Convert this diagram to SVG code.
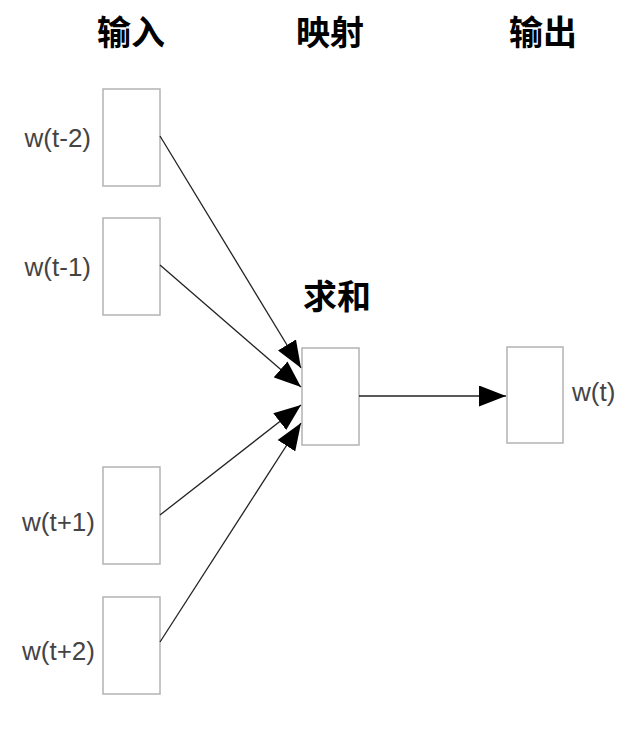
<svg xmlns="http://www.w3.org/2000/svg" width="624" height="750" viewBox="0 0 624 750">
<style>
.box{fill:#fff;stroke:#b3b3b3;stroke-width:1.5}
.lbl{font-family:"Liberation Sans",Arial,sans-serif;font-size:26px;fill:#444}
.title{font-family:"Noto Sans CJK SC",sans-serif;font-size:34px;font-weight:bold;fill:#000;text-anchor:middle}
.edge{stroke:#222;stroke-width:1.3;fill:none;marker-end:url(#arr)}
</style>
<defs>
<marker id="arr" markerUnits="userSpaceOnUse" markerWidth="27" markerHeight="21" refX="27" refY="10.5" orient="auto">
<path d="M0,0 L27,10.5 L0,21 Z" fill="#000"/>
</marker>
</defs>
<rect width="624" height="750" fill="#fff"/>
<text class="title" x="131" y="45">输入</text>
<text class="title" x="330" y="45">映射</text>
<text class="title" x="543" y="45">输出</text>
<g id="in1"><rect class="box" x="103" y="89" width="57" height="97"/><text class="lbl" x="91" y="147" text-anchor="end">w(t-2)</text></g>
<g id="in2"><rect class="box" x="103" y="218" width="57" height="97"/><text class="lbl" x="91" y="276" text-anchor="end">w(t-1)</text></g>
<g id="in3"><rect class="box" x="103" y="467" width="57" height="97"/><text class="lbl" x="95" y="531" text-anchor="end">w(t+1)</text></g>
<g id="in4"><rect class="box" x="103" y="597" width="57" height="97"/><text class="lbl" x="95" y="660" text-anchor="end">w(t+2)</text></g>
<g id="sum"><text class="title" x="337" y="309">求和</text><rect class="box" x="302" y="348" width="57" height="97"/></g>
<g id="out"><rect class="box" x="507" y="347" width="56" height="96"/><text class="lbl" x="572" y="401">w(t)</text></g>
<g id="edges">
<line class="edge" x1="160" y1="136" x2="301" y2="368"/>
<line class="edge" x1="160" y1="265" x2="301" y2="387"/>
<line class="edge" x1="160" y1="515" x2="301" y2="405"/>
<line class="edge" x1="160" y1="642" x2="301" y2="423"/>
<line class="edge" x1="359" y1="396" x2="506" y2="396"/>
</g>
</svg>
